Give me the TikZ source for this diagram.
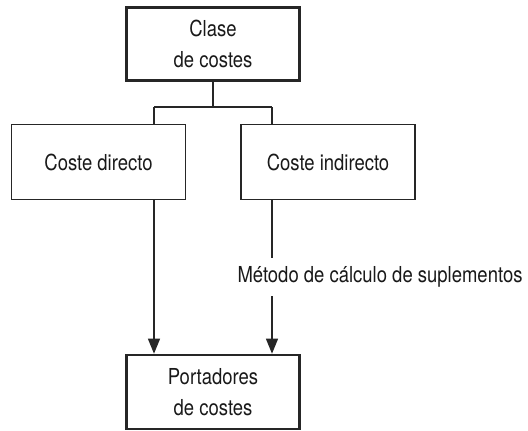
\documentclass[tikz,border=0pt]{standalone}
\usepackage{fontspec}
\setmainfont{TeX Gyre Heros}[FakeStretch=0.84]
\usetikzlibrary{positioning, arrows.meta}

\begin{document}
\begin{tikzpicture}[x=1pt, y=1pt,
        % styles
        costbox/.style = {
                rectangle, draw=black!85, line width=1.2pt,
                minimum width=174pt, minimum height=75pt,
                align=center, text=black!90,
                font=\fontsize{22}{31}\selectfont
            },
        mainbox/.style = {
                costbox, line width=2.6pt,
                minimum width=173.5pt, minimum height=73.5pt
            },
        link/.style = {
                draw=black!85, line width=1.2pt
            },
        arrow/.style = {
                link, -{Triangle[width=12pt, length=15pt]}
            }]

    \useasboundingbox (0,0) rectangle (528,-431);

    \node (clase) [mainbox] at (213,-44) {Clase\\de costes};
    \node (directo) [costbox] at (98.5,-162) {Coste directo};
    \node (indirecto) [costbox] at (328,-162) {Coste indirecto};
    \node (portadores) [mainbox, minimum height=74pt] at (213,-392) {Portadores\\de costes};

    % branch points
    \coordinate (split) at (213,-107);
    \coordinate (leftleg) at (154,-107);
    \coordinate (rightleg) at (272,-107);

    % % lines
    \draw [link] (clase) -- (split);
    \draw [link] (leftleg) -- (rightleg);
    \draw [link] (leftleg) -- (leftleg |- directo.north);
    \draw [link] (rightleg) -- (rightleg |- indirecto.north);
    \draw [arrow] (leftleg |- directo.south) -- (leftleg |- portadores.north);
    \draw [arrow] (rightleg |- indirecto.south) -- (rightleg |- portadores.north);

    \node (metodo) [fill=white, inner xsep=2pt, inner ysep=9pt, text=black!90,
        font=\fontsize{22}{31}\selectfont] at (380,-277) {Método de cálculo de suplementos};

\end{tikzpicture}
\end{document}
